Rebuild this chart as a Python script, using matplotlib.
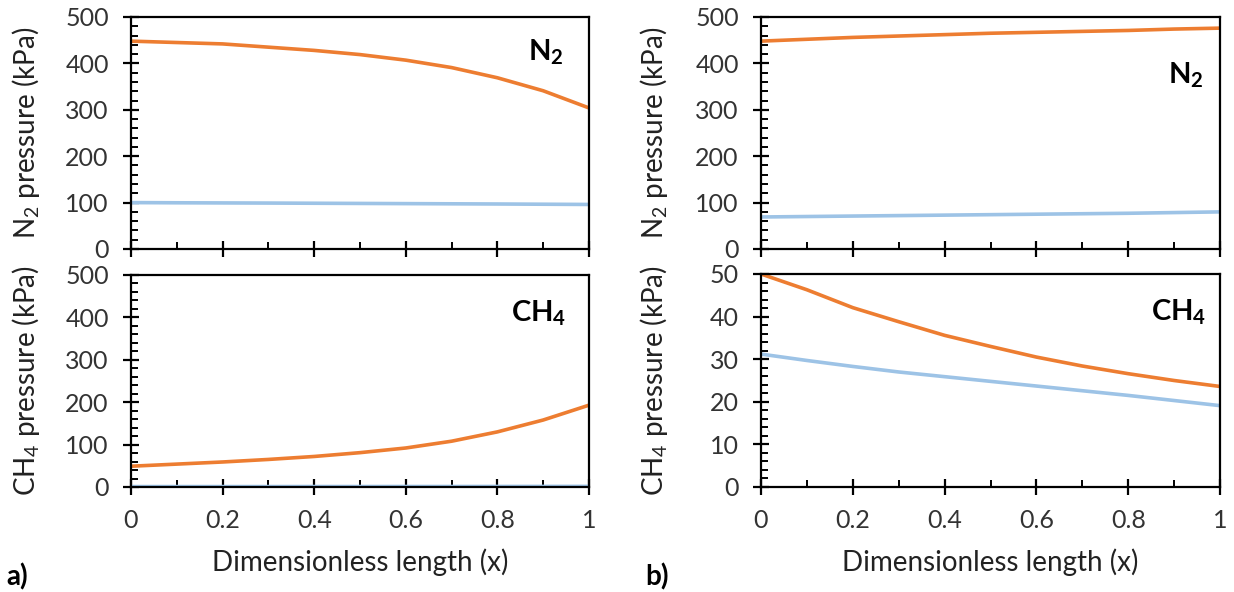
import numpy as np
import matplotlib
matplotlib.use("Agg")
import matplotlib.pyplot as plt
from matplotlib.ticker import MultipleLocator

plt.rcParams['font.family'] = ['Lato', 'DejaVu Sans']
plt.rcParams['mathtext.fontset'] = 'custom'
plt.rcParams['mathtext.rm'] = 'Lato'
plt.rcParams['mathtext.it'] = 'Lato'
plt.rcParams['mathtext.bf'] = 'Lato:bold'

# Data
x = [0.0, 0.1, 0.2, 0.3, 0.4, 0.5, 0.6, 0.7, 0.8, 0.9, 1.0]

a_n2_orange = [448, 445, 442, 435, 428, 419, 407, 391, 369, 341, 304]
a_n2_blue = [100, 99.6, 99.3, 99, 98.6, 98.2, 97.8, 97.4, 97, 96.5, 96]
a_ch4_orange = [49, 54, 59, 65, 72, 81, 92, 108, 130, 158, 193]
a_ch4_blue = [1.0, 1.0, 1.0, 1.0, 1.1, 1.1, 1.2, 1.2, 1.3, 1.4, 1.5]

b_n2_orange = [448, 452, 456, 459, 462, 465, 467, 469, 471, 474, 476]
b_n2_blue = [69, 70, 71, 72, 73, 74, 75, 76, 77, 78.5, 80]
b_ch4_orange = [50, 46.3, 42.1, 38.8, 35.6, 33.0, 30.5, 28.4, 26.6, 25.0, 23.6]
b_ch4_blue = [31.2, 29.7, 28.3, 27.0, 25.9, 24.8, 23.7, 22.6, 21.5, 20.3, 19.1]

orange = '#ED7D31'
blue = '#9DC3E6'
W, H = 1234, 592


def px_axes(left, top, right, bottom):
    return fig.add_axes([left / W, 1 - bottom / H, (right - left) / W, (bottom - top) / H])


def fmt(v, p):
    if abs(v) < 1e-9:
        return '0'
    if abs(v - 1) < 1e-9:
        return '1'
    return f'{v:.1f}'


def style(ax, ymax, ymajor, yminor, show_x):
    ax.set_xlim(0, 1)
    ax.set_ylim(0, ymax)
    ax.xaxis.set_major_locator(MultipleLocator(0.2))
    ax.xaxis.set_minor_locator(MultipleLocator(0.1))
    ax.yaxis.set_major_locator(MultipleLocator(ymajor))
    ax.yaxis.set_minor_locator(MultipleLocator(yminor))
    for s in ax.spines.values():
        s.set_linewidth(1.6)
        s.set_color('black')
    ax.tick_params(which='major', direction='inout', length=12, width=1.6,
                   labelsize=18, colors='black', labelcolor='#333333')
    ax.tick_params(which='minor', direction='in', length=5, width=1.4)
    ax.tick_params(axis='x', which='major', pad=10)
    ax.tick_params(axis='y', which='major', pad=10)
    ax.xaxis.set_major_formatter(fmt)
    if not show_x:
        ax.tick_params(axis='x', labelbottom=False)


fig = plt.figure(figsize=(W / 100, H / 100), dpi=100)

lw = 2.6
lab_fs = 20
# a) top
ax = px_axes(131, 17, 589, 249)
ax.plot(x, a_n2_orange, color=orange, lw=lw)
ax.plot(x, a_n2_blue, color=blue, lw=lw)
style(ax, 500, 100, 20, False)
ax.set_ylabel('N$_2$ pressure (kPa)', fontsize=lab_fs, color='#222222')
ax.yaxis.set_label_coords(-89 / 458, 0.5)
ax.text(0.905, 0.85, 'N$_\\mathbf{2}$', transform=ax.transAxes, fontsize=21,
        fontweight='bold', ha='center', va='center')

# a) bottom
ax = px_axes(131, 275, 589, 487)
ax.plot(x, a_ch4_orange, color=orange, lw=lw)
ax.plot(x, a_ch4_blue, color=blue, lw=lw)
style(ax, 500, 100, 20, True)
ax.set_ylabel('CH$_4$ pressure (kPa)', fontsize=lab_fs, color='#222222')
ax.yaxis.set_label_coords(-89 / 458, 0.5)
ax.set_xlabel('Dimensionless length (x)', fontsize=lab_fs, labelpad=12, color='#222222')
ax.text(0.89, 0.82, 'CH$_\\mathbf{4}$', transform=ax.transAxes, fontsize=21,
        fontweight='bold', ha='center', va='center')

# b) top
ax = px_axes(761, 17, 1220, 249)
ax.plot(x, b_n2_orange, color=orange, lw=lw)
ax.plot(x, b_n2_blue, color=blue, lw=lw)
style(ax, 500, 100, 20, False)
ax.set_ylabel('N$_2$ pressure (kPa)', fontsize=lab_fs, color='#222222')
ax.yaxis.set_label_coords(-91 / 459, 0.5)
ax.text(0.925, 0.75, 'N$_\\mathbf{2}$', transform=ax.transAxes, fontsize=21,
        fontweight='bold', ha='center', va='center')

# b) bottom
ax = px_axes(761, 274, 1220, 487)
ax.plot(x, b_ch4_orange, color=orange, lw=lw)
ax.plot(x, b_ch4_blue, color=blue, lw=lw)
style(ax, 50, 10, 2, True)
ax.set_ylabel('CH$_4$ pressure (kPa)', fontsize=lab_fs, color='#222222')
ax.yaxis.set_label_coords(-91 / 459, 0.5)
ax.set_xlabel('Dimensionless length (x)', fontsize=lab_fs, labelpad=12, color='#222222')
ax.text(0.91, 0.82, 'CH$_\\mathbf{4}$', transform=ax.transAxes, fontsize=21,
        fontweight='bold', ha='center', va='center')

fig.text(6 / W, 1 - 577 / H, 'a)', fontsize=20, fontweight='bold', ha='left', va='center')
fig.text(645 / W, 1 - 577 / H, 'b)', fontsize=20, fontweight='bold', ha='left', va='center')

fig.savefig('out.png', dpi=100)
